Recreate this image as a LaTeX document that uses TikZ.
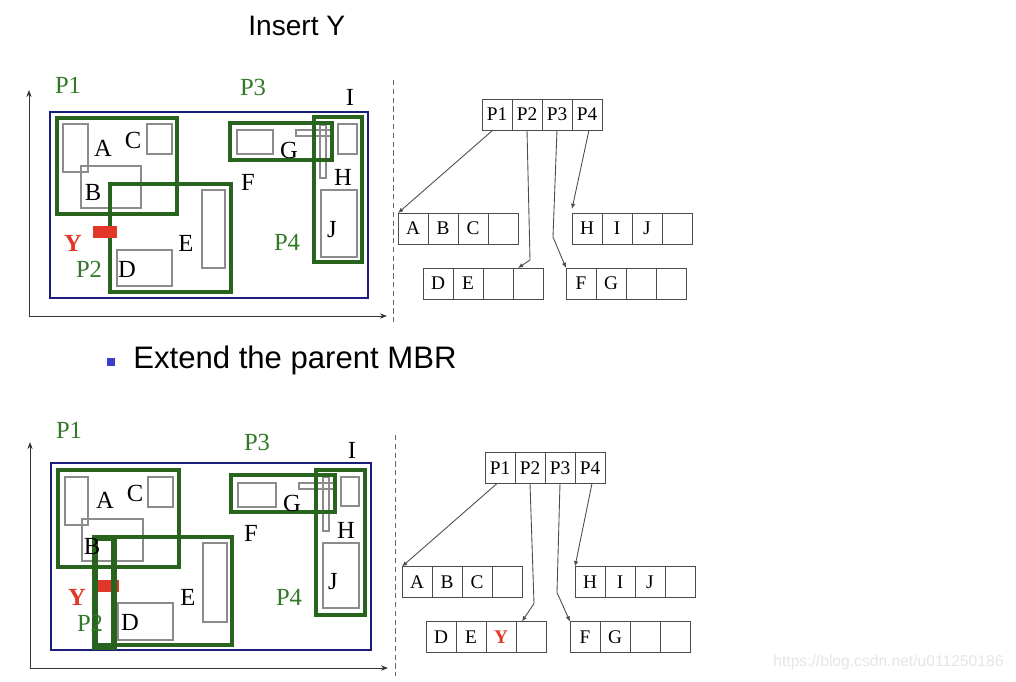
\documentclass[tikz,border=0pt]{standalone}
\usepackage{fontspec}
\setmainfont{Liberation Serif}
\newfontfamily\slidefont{Liberation Sans}
\usepackage{tikz}
\usetikzlibrary{positioning, arrows.meta}

\definecolor{mbrgreen}{RGB}{40,100,30}
\definecolor{labgreen}{RGB}{50,120,40}
\definecolor{mbrblue}{RGB}{25,30,125}
\definecolor{objred}{RGB}{225,55,40}
\definecolor{bulletblue}{RGB}{60,60,200}

\begin{document}
\begin{tikzpicture}[
  x=0.02cm, y=-0.02cm,
  outer/.style={draw=mbrblue, line width=1.6pt},
  mbr/.style={draw=mbrgreen, line width=1.8pt},
  obj/.style={draw=black!45, line width=0.6pt},
  newobj/.style={fill=objred},
  lbl/.style={inner sep=0pt, font=\fontsize{14}{16}\selectfont},
  plbl/.style={lbl, text=labgreen},
  ylbl/.style={lbl, text=objred, font=\fontsize{14}{16}\selectfont\bfseries},
  axis/.style={draw=black!80, line width=0.5pt, -{Stealth[length=4pt, width=3pt]}},
  sep/.style={draw=black!60, line width=0.5pt, densely dashed},
  cell/.style={draw=black!70, line width=0.5pt, minimum width=0.6cm, minimum height=0.62cm,
    inner sep=0pt, outer sep=0pt, font=\fontsize{11}{13}\selectfont},
  ptr/.style={draw=black!70, line width=0.5pt, -{Latex[length=3pt, width=2.5pt]}}
  ]
\useasboundingbox (0,0) rectangle (1016,681);

% titles
\node[anchor=base west, inner sep=0pt, font=\slidefont\fontsize{16}{18}\selectfont] (title) at (248,35) {Insert Y};
\node[fill=bulletblue, minimum size=0.16cm, inner sep=0pt] (bul) at (111,362) {};
\node[anchor=base west, inner sep=0pt, font=\slidefont\fontsize{17.7}{20}\selectfont] (ext) at (133,368) {Extend the parent MBR};
\node[anchor=base west, inner sep=0pt, text=black!10, font=\slidefont\fontsize{8.9}{10}\selectfont] (mark) at (773,666) {https://blog.csdn.net/u011250186};

% upper plane
\draw[axis] (29,317) -- (29,90);
\draw[axis] (29,316) -- (387,316);
\draw[sep] (393,80) -- (393,322);
\draw[obj] (63,124) rectangle (88,172);
\draw[obj] (81,166) rectangle (141,208);
\draw[obj] (147,124) rectangle (172,154);
\draw[obj] (117,250) rectangle (172,286);
\draw[obj] (202,190) rectangle (225,268);
\draw[obj] (237,130) rectangle (273,154);
\draw[obj] (296,130) rectangle (332,136);
\draw[obj] (320,125) rectangle (326,178);
\draw[obj] (338,124) rectangle (357,154);
\draw[obj] (321,190) rectangle (357,257);
\draw[outer] (50,112) rectangle (368,298);
\draw[mbr] (57,118) rectangle (177,214);
\draw[mbr] (110,184) rectangle (231,292);
\draw[mbr] (230,123) rectangle (332,160);
\draw[mbr] (314,117) rectangle (362,262);
\fill[newobj] (93,226) rectangle (117,238);
\node[plbl] (uP1) at (68,85) {P1};
\node[plbl] (uP2) at (89,269) {P2};
\node[plbl] (uP3) at (253,87) {P3};
\node[plbl] (uP4) at (287,242) {P4};
\node[lbl] (uA) at (103,148) {A};
\node[lbl] (uB) at (93,192) {B};
\node[lbl] (uC) at (133,140) {C};
\node[lbl] (uD) at (127,269) {D};
\node[lbl] (uE) at (186,243) {E};
\node[lbl] (uF) at (248,182) {F};
\node[lbl] (uG) at (289,150) {G};
\node[lbl] (uH) at (343,177) {H};
\node[lbl] (uI) at (350,97) {I};
\node[lbl] (uJ) at (332,230) {J};
\node[ylbl] (uY) at (73,243) {Y};

% upper tree
\node[cell] (uroot1) at (497,114.5) {P1};
\node[cell, right=0pt of uroot1] (uroot2) {P2};
\node[cell, right=0pt of uroot2] (uroot3) {P3};
\node[cell, right=0pt of uroot3] (uroot4) {P4};
\node[cell] (uabc1) at (413,228.5) {A};
\node[cell, right=0pt of uabc1] (uabc2) {B};
\node[cell, right=0pt of uabc2] (uabc3) {C};
\node[cell, right=0pt of uabc3] (uabc4) {};
\node[cell] (uhij1) at (587,228.5) {H};
\node[cell, right=0pt of uhij1] (uhij2) {I};
\node[cell, right=0pt of uhij2] (uhij3) {J};
\node[cell, right=0pt of uhij3] (uhij4) {};
\node[cell] (ude1) at (438,283.5) {D};
\node[cell, right=0pt of ude1] (ude2) {E};
\node[cell, right=0pt of ude2] (ude3) {};
\node[cell, right=0pt of ude3] (ude4) {};
\node[cell] (ufg1) at (581,283.5) {F};
\node[cell, right=0pt of ufg1] (ufg2) {G};
\node[cell, right=0pt of ufg2] (ufg3) {};
\node[cell, right=0pt of ufg3] (ufg4) {};
\draw[ptr] ([xshift=-0.08cm]uroot1.south) -- (uabc1.north west);
\draw[ptr] (uroot2.south) -- ++(3,130) -- ([xshift=0.1cm]ude4.north west);
\draw[ptr] (uroot3.south) -- ++(-4,107) -- (ufg1.north west);
\draw[ptr] ([xshift=0.04cm]uroot4.south) -- ([yshift=0.08cm]uhij1.north west);

% lower plane
\draw[axis] (30,668) -- (30,442);
\draw[axis] (30,668) -- (388,668);
\draw[sep] (395,435) -- (395,676);
\draw[obj] (65,477) rectangle (88,525);
\draw[obj] (82,519) rectangle (143,561);
\draw[obj] (148,477) rectangle (173,507);
\draw[obj] (118,603) rectangle (173,640);
\draw[obj] (203,543) rectangle (227,622);
\draw[obj] (238,483) rectangle (276,507);
\draw[obj] (299,483) rectangle (335,489);
\draw[obj] (323,477) rectangle (329,531);
\draw[obj] (341,477) rectangle (359,506);
\draw[obj] (323,543) rectangle (359,608);
\draw[outer] (51,463) rectangle (371,650);
\fill[newobj] (97,580) rectangle (119,592);
\draw[mbr] (58,470) rectangle (179,567);
\draw[mbr] (94,537) rectangle (232,645);
\draw[mbr, line width=3pt] (95,538) rectangle (114,647);
\draw[mbr] (231,475) rectangle (335,512);
\draw[mbr] (316,470) rectangle (365,615);
\node[plbl] (lP1) at (69,430) {P1};
\node[plbl] (lP2) at (90,623) {P2};
\node[plbl] (lP3) at (257,442) {P3};
\node[plbl] (lP4) at (289,597) {P4};
\node[lbl] (lA) at (105,500) {A};
\node[lbl] (lB) at (92,546) {B};
\node[lbl] (lC) at (135,493) {C};
\node[lbl] (lD) at (130,622) {D};
\node[lbl] (lE) at (188,597) {E};
\node[lbl] (lF) at (251,533) {F};
\node[lbl] (lG) at (292,503) {G};
\node[lbl] (lH) at (346,530) {H};
\node[lbl] (lI) at (352,450) {I};
\node[lbl] (lJ) at (333,582) {J};
\node[ylbl] (lY) at (77,597) {Y};

% lower tree
\node[cell] (lroot1) at (500,468) {P1};
\node[cell, right=0pt of lroot1] (lroot2) {P2};
\node[cell, right=0pt of lroot2] (lroot3) {P3};
\node[cell, right=0pt of lroot3] (lroot4) {P4};
\node[cell] (labc1) at (417,582) {A};
\node[cell, right=0pt of labc1] (labc2) {B};
\node[cell, right=0pt of labc2] (labc3) {C};
\node[cell, right=0pt of labc3] (labc4) {};
\node[cell] (lhij1) at (590,582) {H};
\node[cell, right=0pt of lhij1] (lhij2) {I};
\node[cell, right=0pt of lhij2] (lhij3) {J};
\node[cell, right=0pt of lhij3] (lhij4) {};
\node[cell] (ldey1) at (441,637) {D};
\node[cell, right=0pt of ldey1] (ldey2) {E};
\node[cell, right=0pt of ldey2, text=objred, font=\fontsize{11}{13}\selectfont\bfseries] (ldey3) {Y};
\node[cell, right=0pt of ldey3] (ldey4) {};
\node[cell] (lfg1) at (585,637) {F};
\node[cell, right=0pt of lfg1] (lfg2) {G};
\node[cell, right=0pt of lfg2] (lfg3) {};
\node[cell, right=0pt of lfg3] (lfg4) {};
\draw[ptr] ([xshift=-0.06cm]lroot1.south) -- (labc1.north west);
\draw[ptr] (lroot2.south) -- ++(4,120) -- ([xshift=0.12cm]ldey4.north west);
\draw[ptr] (lroot3.south) -- ++(-3,109) -- (lfg1.north west);
\draw[ptr] ([xshift=0.04cm]lroot4.south) -- (lhij1.north west);

\end{tikzpicture}
\end{document}
